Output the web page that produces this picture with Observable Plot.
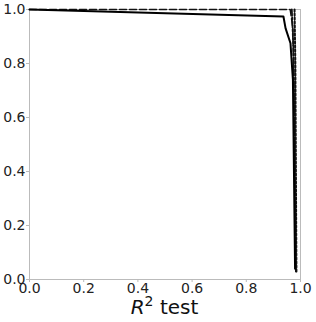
<!DOCTYPE html>
<html><head><meta charset="utf-8">
<script src="https://cdn.jsdelivr.net/npm/d3@7"></script>
<script src="https://cdn.jsdelivr.net/npm/@observablehq/plot@0.6"></script>
<style>body{margin:0;background:#fff;font-family:"DejaVu Sans",sans-serif}</style>
</head><body><div id="c"></div>
<script>
const xTicks = [0, 0.2, 0.4, 0.6, 0.8, 1.0];
const yTicks = [0, 0.2, 0.4, 0.6, 0.8, 1.0];
const solidX = [0.0, 0.937, 0.945, 0.963, 0.972, 0.98];
const solidY = [1.0, 0.974, 0.93, 0.875, 0.74, 0.04];
const dashedX = [0.0, 0.962, 0.972, 0.977, 0.982];
const dashedY = [1.0, 1.0, 0.93, 0.6, 0.04];
const dashdotX = [0.968, 0.974, 0.979, 0.983];
const dashdotY = [1.0, 0.85, 0.5, 0.03];
const dottedX = [0.978, 0.981, 0.983, 0.985];
const dottedY = [1.0, 0.8, 0.4, 0.03];

const toRows = (xs, ys) => xs.map((x, i) => ({x, y: ys[i]}));
const fmt = d => d.toFixed(1);
const gray = "#bbbbbb";

const chart = Plot.plot({
  width: 316, height: 322,
  marginLeft: 29, marginRight: 16, marginTop: 9, marginBottom: 43,
  style: {fontFamily: "DejaVu Sans, sans-serif", fontSize: "14px", color: "#222", background: "#fff", overflow: "visible"},
  x: {domain: [0, 1]},
  y: {domain: [0, 1]},
  marks: [
    Plot.frame({stroke: gray, strokeWidth: 1}),
    Plot.axisX({ticks: xTicks, tickFormat: fmt, tickSize: 3, stroke: gray, tickPadding: 1, fontSize: 14, label: null}),
    Plot.axisY({ticks: yTicks, tickFormat: fmt, tickSize: 3, stroke: gray, tickPadding: 1, fontSize: 14, label: null}),
    Plot.line(toRows(dashedX, dashedY), {x: "x", y: "y", stroke: "#111", strokeWidth: 1.5, strokeDasharray: "7,3"}),
    Plot.line(toRows(dashdotX, dashdotY), {x: "x", y: "y", stroke: "#111", strokeWidth: 1.8, strokeDasharray: "6,2,2,2"}),
    Plot.line(toRows(dottedX, dottedY), {x: "x", y: "y", stroke: "#111", strokeWidth: 2, strokeDasharray: "2,2"}),
    Plot.line(toRows(solidX, solidY), {x: "x", y: "y", stroke: "#000", strokeWidth: 2})
  ]
});
document.getElementById("c").appendChild(chart);
const svg = d3.select(chart);
svg.append("text").attr("x", 29 + (316-29-16)/2).attr("y", 314).attr("text-anchor", "middle")
  .attr("font-size", 20).attr("fill", "#111")
  .html('<tspan font-style="italic">R</tspan><tspan dy="-8" font-size="14">2</tspan><tspan dy="8"> test</tspan>');
</script></body></html>
